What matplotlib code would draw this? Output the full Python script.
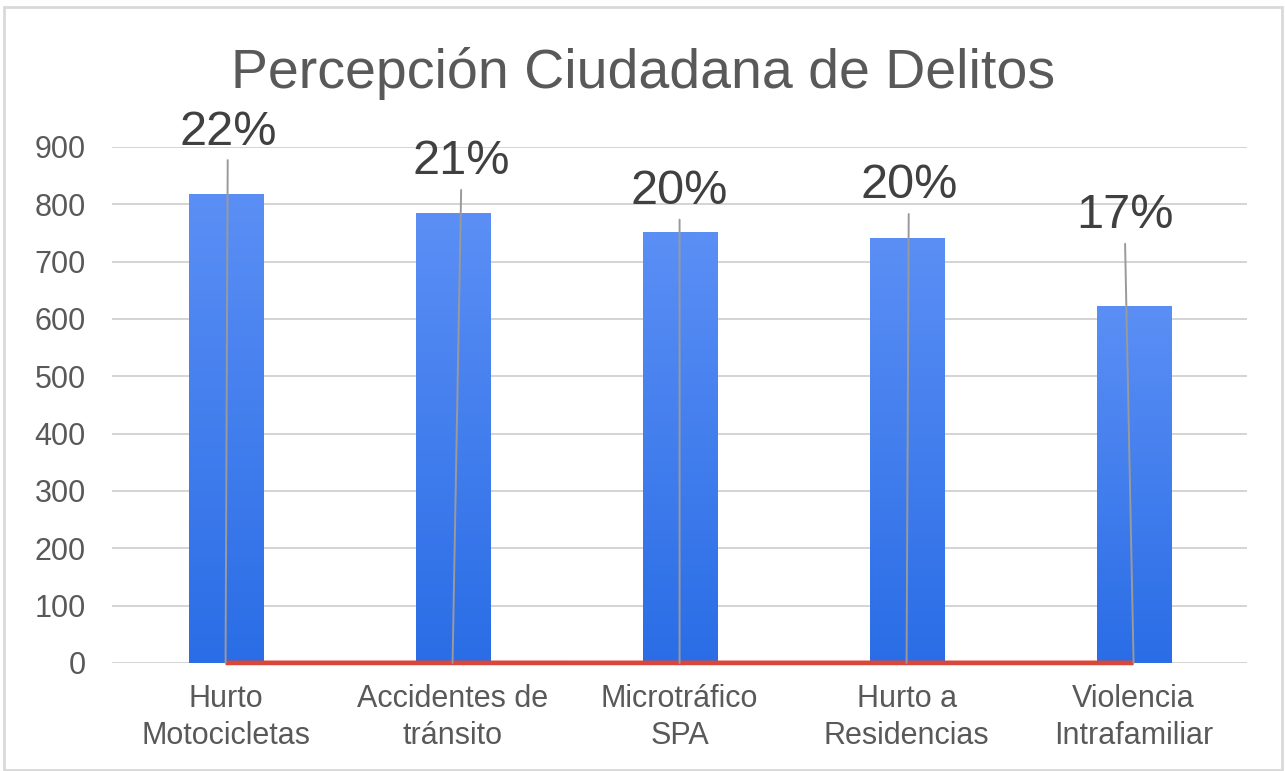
import matplotlib
matplotlib.use("Agg")
import matplotlib.pyplot as plt
import numpy as np
from matplotlib.colors import LinearSegmentedColormap
from matplotlib.patches import Rectangle

# ---- data ----
categories = ["Hurto\nMotocicletas", "Accidentes de\ntránsito", "Microtráfico\nSPA",
              "Hurto a\nResidencias", "Violencia\nIntrafamiliar"]
counts = [818, 784, 751, 742, 623]
shares = [0.22, 0.21, 0.20, 0.20, 0.17]
share_labels = ["22%", "21%", "20%", "20%", "17%"]
yticks = [0, 100, 200, 300, 400, 500, 600, 700, 800, 900]
title = "Percepción Ciudadana de Delitos"

# ---- layout (label anchor positions, data coords) ----
label_x = [0.01, 1.04, 2.0, 3.01, 3.96]
label_y = [926, 874, 822, 832, 780]

plt.rcParams["font.family"] = ["Liberation Sans", "DejaVu Sans"]

fig = plt.figure(figsize=(12.85, 7.71), dpi=100)
fig.patch.set_facecolor("white")
ax = fig.add_axes([0.0872, 0.1401, 0.8833, 0.6693])

x = np.arange(len(categories))
bars = ax.bar(x, counts, width=0.326, color="none", zorder=2)

cmap = LinearSegmentedColormap.from_list("g", ["#2a6de6", "#5b8ff5"])
grad = np.linspace(0, 1, 256).reshape(-1, 1)
for r in bars:
    x0, w, h = r.get_x(), r.get_width(), r.get_height()
    im = ax.imshow(grad, extent=[x0, x0 + w, 0, h], origin="lower", aspect="auto",
                   cmap=cmap, zorder=2)
    im.set_clip_path(r)

ax.plot(x, shares, color="#d9473b", lw=3.4, zorder=3, solid_capstyle="butt",
        clip_on=False)

for i, lab in enumerate(share_labels):
    ax.annotate(lab, xy=(x[i], shares[i]), xytext=(label_x[i], label_y[i]),
                textcoords="data", ha="center", va="center", fontsize=35,
                color="#404040", zorder=5, annotation_clip=False,
                arrowprops=dict(arrowstyle="-", color="#9a9a9a", lw=1.4,
                                shrinkA=2, shrinkB=0))

ax.set_xlim(-0.5, len(categories) - 0.5)
ax.set_ylim(0, 900)
ax.set_yticks(yticks)
ax.set_xticks(x)
ax.set_xticklabels(categories, linespacing=1.3)
ax.tick_params(axis="y", length=0, pad=19, labelsize=22, labelcolor="#595959")
ax.tick_params(axis="x", length=0, pad=15, labelsize=22, labelcolor="#595959")
ax.grid(axis="y", color="#d4d4d4", lw=1.4, zorder=0)
ax.set_axisbelow(True)
for s in ax.spines.values():
    s.set_visible(False)

fig.text(0.5006, 0.905, title, ha="center", va="center", fontsize=40, color="#595959")

fig.patches.append(Rectangle((0.0031, 0.0013), 0.9946, 0.9896, transform=fig.transFigure,
                             fill=False, edgecolor="#d9d9d9", lw=2))

fig.savefig("out.png", dpi=100)
